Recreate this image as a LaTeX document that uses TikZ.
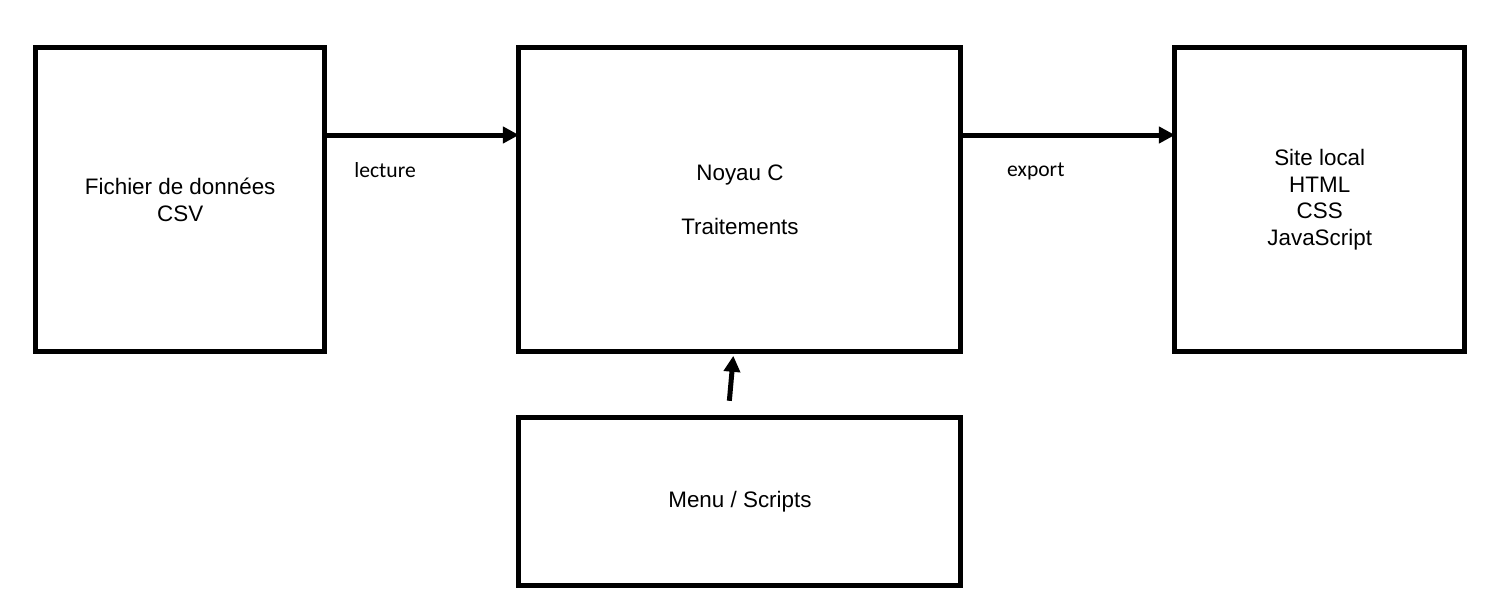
\documentclass[tikz,border=0pt]{standalone}
\usepackage{fontspec}
\setmainfont{Liberation Sans}
\newfontfamily\calibri{Carlito}
\usepackage{tikz}
\usetikzlibrary{arrows.meta,positioning}

\begin{document}
\begin{tikzpicture}[
    auto,
    >={Triangle[length=8pt,width=8pt]},
    font=\fontsize{11.2}{13.35}\selectfont,
    bloc/.style={
		rectangle,
		draw=black,
		line width=2.5pt,
		outer sep=0pt,
		text centered,
		align=center,
		minimum height=152pt,
		minimum width=144.75pt,
		fill=white
	},
	flow/.style={
		->,
		line width=2.5pt
	},
	arrowtxt/.style={
		font=\calibri\fontsize{10.8}{13}\selectfont,
		inner sep=0pt
	}
  ]

 \useasboundingbox (0,0) rectangle (743pt,-305pt);

 % // sources
 \node [bloc] (csv) at (90.1pt,-99.9pt)
 {Fichier de données\\CSV};

 % // the core
 \node [bloc, right=97pt of csv, minimum width=221pt] (core)
 {Noyau C\\ \\Traitements};

 \node [bloc, right=107pt of core] (site)
 {Site local\\HTML\\CSS\\JavaScript};

 \node [bloc, below=33pt of core, minimum width=221pt, minimum height=84pt] (menu)
 {Menu / Scripts};

 % // arrows
 \draw [flow] ([yshift=32.4pt]csv.east) to node [arrowtxt, pos=0.31, below=12.5pt] {lecture} ([yshift=32.4pt]core.west);
 \draw [flow] ([yshift=32.4pt]core.east) to node [arrowtxt, pos=0.35, below=12.5pt] {export} ([yshift=32.4pt]site.west);
 \draw [flow] ([xshift=-5.3pt,yshift=8.5pt]menu.north) -- ([xshift=-3.3pt,yshift=-2pt]core.south);

\end{tikzpicture}
\end{document}
